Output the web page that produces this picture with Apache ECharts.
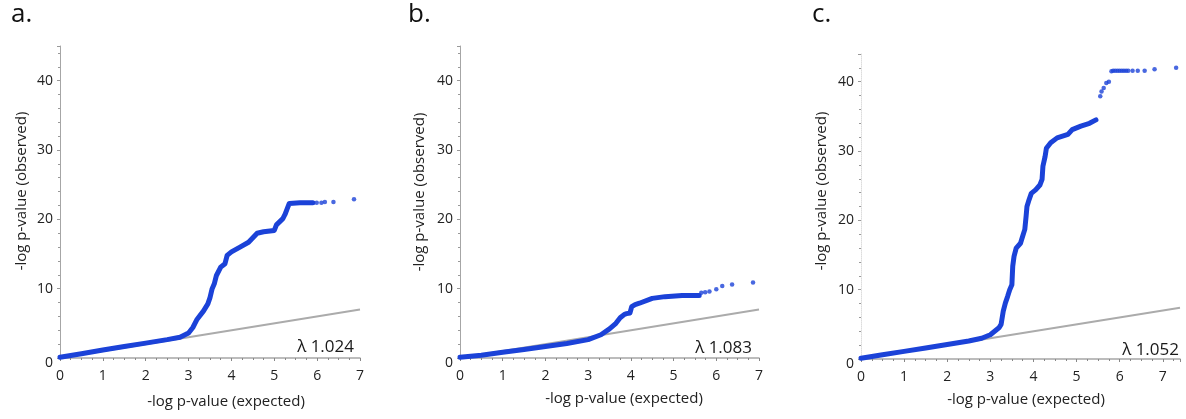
<!DOCTYPE html>
<html><head><meta charset="utf-8">
<script src="https://cdn.jsdelivr.net/npm/echarts@6/dist/echarts.min.js"></script>
<style>html,body{margin:0;padding:0;background:#fff}#c{width:1186px;height:419px}</style>
</head><body><div id="c"></div>
<script>
// Panel a
const aX = [0,0.5,1,1.5,2,2.5,2.8,3.0,3.1,3.2,3.35,3.45,3.5,3.55,3.6,3.65,3.75,3.85,3.9,4.0,4.2,4.4,4.6,4.75,5.0,5.05,5.2,5.25,5.3,5.35,5.6,5.9];
const aY = [0.1,0.6,1.15,1.65,2.15,2.65,3.0,3.6,4.4,5.6,6.8,7.8,8.7,10,10.7,11.9,13.1,13.6,14.8,15.3,16.0,16.7,18.0,18.2,18.4,19.2,20.1,20.7,21.5,22.3,22.4,22.4];
const aTailX = [5.99,6.1,6.18,6.38,6.86];
const aTailY = [22.4,22.4,22.5,22.5,22.9];
// Panel b
const bX = [0,0.5,1,1.5,2,2.5,3,3.3,3.5,3.65,3.75,3.85,3.9,3.98,4.02,4.1,4.2,4.5,4.8,5.2,5.6];
const bY = [0.1,0.4,0.82,1.22,1.65,2.1,2.65,3.35,4.2,5.0,5.8,6.3,6.4,6.5,7.4,7.7,7.9,8.6,8.85,9.0,9.0];
const bTailX = [5.65,5.74,5.84,6.0,6.14,6.37,6.86];
const bTailY = [9.4,9.5,9.6,9.9,10.4,10.6,10.9];
// Panel c
const cX = [0,0.5,1,1.5,2,2.5,2.8,3.0,3.1,3.2,3.25,3.3,3.35,3.4,3.45,3.5,3.52,3.55,3.6,3.7,3.75,3.8,3.83,3.85,3.9,3.95,4.05,4.15,4.2,4.22,4.27,4.3,4.4,4.55,4.8,4.9,5.1,5.3,5.45];
const cY = [0.1,0.6,1.1,1.6,2.1,2.6,3.0,3.5,4.0,4.5,5.0,6.9,8.1,9.0,10.0,10.7,13.4,14.8,16.0,16.7,17.7,18.7,20.6,22.0,23.0,23.9,24.4,25.1,25.9,27.8,29.2,30.4,31.2,31.9,32.4,33.1,33.6,34.0,34.5];
const cTailX = [5.55,5.58,5.63,5.69,5.75,5.81,5.85,5.9,5.95,6.0,6.05,6.1,6.15,6.2,6.3,6.42,6.58,6.81,7.31];
const cTailY = [37.9,38.6,39.1,39.8,40.0,41.5,41.6,41.6,41.6,41.6,41.6,41.6,41.6,41.6,41.6,41.6,41.6,41.8,42.0];

const panelLabels = ['a.','b.','c.'];
const lambdas = ['λ 1.024','λ 1.083','λ 1.052'];
const xName = '-log p-value (expected)';
const yName = '-log p-value (observed)';
const xTicks = [0,1,2,3,4,5,6,7];

const zip = (xs, ys) => xs.map((x,i)=>[x, ys[i]]);
const BLUE = '#1b42d8';
const FONT = 'Open Sans';

const grids = [
  {left:60, top:46, width:300, height:312},
  {left:460, top:46, width:299, height:312},
  {left:861, top:54, width:319, height:305}
];
const xMax = [7,7,7.4];
const yMax = [45,45,44];

function xAxis(i){
  return {
    type:'value', gridIndex:i, min:0, max:xMax[i], interval:1,
    axisLine:{show:true, lineStyle:{color:'#a6a6a6', width:1.5}},
    axisTick:{show:true, length:3, lineStyle:{color:'#888'}},
    minorTick:{show:true, splitNumber:4, length:2, lineStyle:{color:'#888'}},
    splitLine:{show:false},
    axisLabel:{fontFamily:FONT, fontSize:14, color:'#222', margin:11, showMaxLabel:true, showMinLabel:true,
      formatter: v => xTicks.indexOf(v) >= 0 ? String(v) : ''}
  };
}
function yAxis(i){
  return {
    type:'value', gridIndex:i, min:0, max:yMax[i], interval:10,
    axisLine:{show:true, lineStyle:{color: i===2 ? '#dddddd' : '#a6a6a6', width:1, type: i===2 ? 'dotted' : 'solid'}},
    axisTick:{show:true, length:3, lineStyle:{color:'#999'}},
    minorTick:{show:true, splitNumber:5, length:2, lineStyle:{color:'#999'}},
    splitLine:{show:false},
    axisLabel:{fontFamily:FONT, fontSize:14, color:'#222', margin:7, showMaxLabel:false,
      formatter: v => v === 0 ? '{z|0}' : String(v),
      rich:{z:{fontFamily:FONT, fontSize:14, color:'#222', padding:[10,0,0,0]}}}
  };
}

const series = [];
const xs = [aX,bX,cX], ys=[aY,bY,cY], txs=[aTailX,bTailX,cTailX], tys=[aTailY,bTailY,cTailY];
for (let i=0;i<3;i++){
  series.push({type:'line', xAxisIndex:i, yAxisIndex:i, data:[[0,0],[xMax[i],xMax[i]]],
    symbol:'none', lineStyle:{color:'#ababab', width:2}, z:1, silent:true});
  series.push({type:'line', xAxisIndex:i, yAxisIndex:i, data:zip(xs[i],ys[i]),
    symbol:'none', lineStyle:{color:BLUE, width:5, join:'round', cap:'round'}, z:2, silent:true});
  series.push({type:'scatter', xAxisIndex:i, yAxisIndex:i, data:zip(txs[i],tys[i]),
    symbol:'circle', symbolSize:4.5, itemStyle:{color:BLUE}, z:3, silent:true});
}

const graphics = [];
const labelPos = [[11,28],[408,28],[812,28]];
const lamPos = [[354,347],[752,348],[1179,350]];
const xNamePos = [[226,402],[624,399],[1026,400]];
const yNamePos = [[22,191],[420,192],[822,191]];
for (let i=0;i<3;i++){
  graphics.push({type:'text', x:labelPos[i][0], y:labelPos[i][1],
    style:{text:panelLabels[i], font:'26px "Open Sans"', fill:'#111', textAlign:'left', textVerticalAlign:'bottom'}});
  graphics.push({type:'text', x:lamPos[i][0], y:lamPos[i][1],
    style:{text:lambdas[i], font:'17px "Open Sans"', fill:'#1a1a1a', textAlign:'right', textVerticalAlign:'middle'}});
  graphics.push({type:'text', x:xNamePos[i][0], y:xNamePos[i][1],
    style:{text:xName, font:'15px "Open Sans"', fill:'#222', textAlign:'center', textVerticalAlign:'middle'}});
  graphics.push({type:'text', x:yNamePos[i][0], y:yNamePos[i][1], rotation:Math.PI/2,
    style:{text:yName, font:'15px "Open Sans"', fill:'#222', textAlign:'center', textVerticalAlign:'middle'}});
}

const chart = echarts.init(document.getElementById('c'), null, {renderer:'canvas'});
chart.setOption({
  animation:false,
  backgroundColor:'#fff',
  grid: grids,
  xAxis: [0,1,2].map(xAxis),
  yAxis: [0,1,2].map(yAxis),
  series: series,
  graphic: graphics
});
</script></body></html>
